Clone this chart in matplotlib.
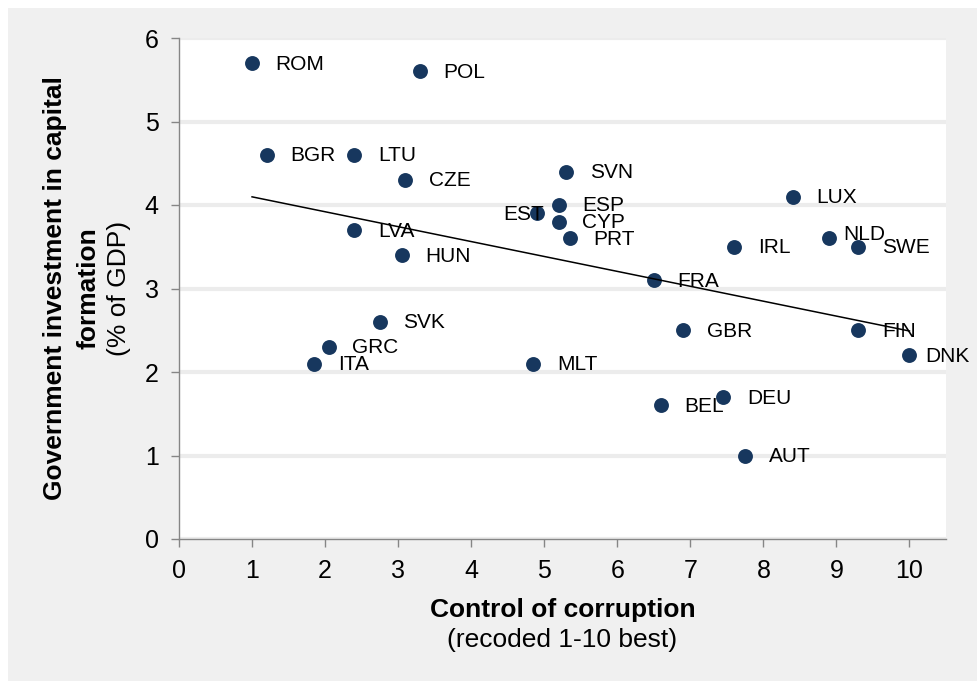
import numpy as np
import matplotlib
matplotlib.use("Agg")
import matplotlib.pyplot as plt
from matplotlib.patches import Rectangle

plt.rcParams['font.family'] = ['Liberation Sans', 'DejaVu Sans']

# data
countries = ['ROM', 'POL', 'BGR', 'LTU', 'CZE', 'SVN', 'ESP', 'EST', 'CYP', 'PRT',
             'LUX', 'NLD', 'SWE', 'IRL', 'LVA', 'HUN', 'FRA', 'SVK', 'GRC', 'ITA',
             'MLT', 'GBR', 'FIN', 'DNK', 'BEL', 'DEU', 'AUT']
corruption = [1.0, 3.3, 1.2, 2.4, 3.1, 5.3, 5.2, 4.9, 5.2, 5.35,
              8.4, 8.9, 9.3, 7.6, 2.4, 3.05, 6.5, 2.75, 2.05, 1.85,
              4.85, 6.9, 9.3, 10.0, 6.6, 7.45, 7.75]
investment = [5.7, 5.6, 4.6, 4.6, 4.3, 4.4, 4.0, 3.9, 3.8, 3.6,
              4.1, 3.6, 3.5, 3.5, 3.7, 3.4, 3.1, 2.6, 2.3, 2.1,
              2.1, 2.5, 2.5, 2.2, 1.6, 1.7, 1.0]
x_ticks = list(range(0, 11))
y_ticks = list(range(0, 7))

dot_color = '#17375E'
bg_color = '#f0f0f0'
spine_color = '#868686'

# label offsets (points) where the label isn't just to the right of its dot
label_pos = {'EST': (5, 0, 'right'), 'NLD': (10, 3.6, 'left'), 'DNK': (11, 0, 'left')}

fig = plt.figure(figsize=(9.78, 6.81), dpi=100)
fig.patches.append(Rectangle((8 / 978, 0), 1, 673 / 681, transform=fig.transFigure,
                             facecolor=bg_color, edgecolor='none', zorder=-10))

ax = fig.add_axes([179 / 978, 1 - 539 / 681, (946 - 179) / 978, (539 - 38) / 681])
ax.set_facecolor('white')

ax.scatter(corruption, investment, s=115, color=dot_color, zorder=3, linewidths=0)

# linear trend over the data range
coef = np.polyfit(corruption, investment, 1)
xs = np.array([min(corruption), max(corruption)])
ax.plot(xs, np.polyval(coef, xs), color='black', lw=1.1, zorder=4)

for name, xv, yv in zip(countries, corruption, investment):
    dx, dy, ha = label_pos.get(name, (17, 0, 'left'))
    ax.annotate(name, (xv, yv), xytext=(dx, dy - 0.7), textcoords='offset points',
                ha=ha, va='center', fontsize=15, zorder=5)

ax.set_xlim(0, 10.5)
ax.set_ylim(0, 6)
ax.set_xticks(x_ticks)
ax.set_yticks(y_ticks)
ax.grid(axis='y', color='#ececec', lw=3)
ax.set_axisbelow(True)

for side in ['top', 'right']:
    ax.spines[side].set_visible(False)
for side in ['left', 'bottom']:
    ax.spines[side].set_color(spine_color)
    ax.spines[side].set_linewidth(1)
ax.tick_params(direction='out', length=5.5, width=1, color=spine_color,
               labelsize=18, pad=9)

# axis titles (bold part + regular part)
ax.annotate('Control of corruption', (0.5, 0), xycoords='axes fraction',
            xytext=(0, -51), textcoords='offset points', ha='center', va='center',
            fontsize=19, fontweight='bold')
ax.annotate('(recoded 1-10 best)', (0.5, 0), xycoords='axes fraction',
            xytext=(0, -73), textcoords='offset points', ha='center', va='center',
            fontsize=19)
ax.annotate('Government investment in capital', (0, 0.5), xycoords='axes fraction',
            xytext=(-89, 0), textcoords='offset points', ha='center', va='center',
            rotation=90, fontsize=19, fontweight='bold')
ax.annotate('formation', (0, 0.5), xycoords='axes fraction',
            xytext=(-65, 0), textcoords='offset points', ha='center', va='center',
            rotation=90, fontsize=19, fontweight='bold')
ax.annotate('(% of GDP)', (0, 0.5), xycoords='axes fraction',
            xytext=(-43, 0), textcoords='offset points', ha='center', va='center',
            rotation=90, fontsize=19)

fig.savefig('out.png', dpi=100, facecolor='white')
